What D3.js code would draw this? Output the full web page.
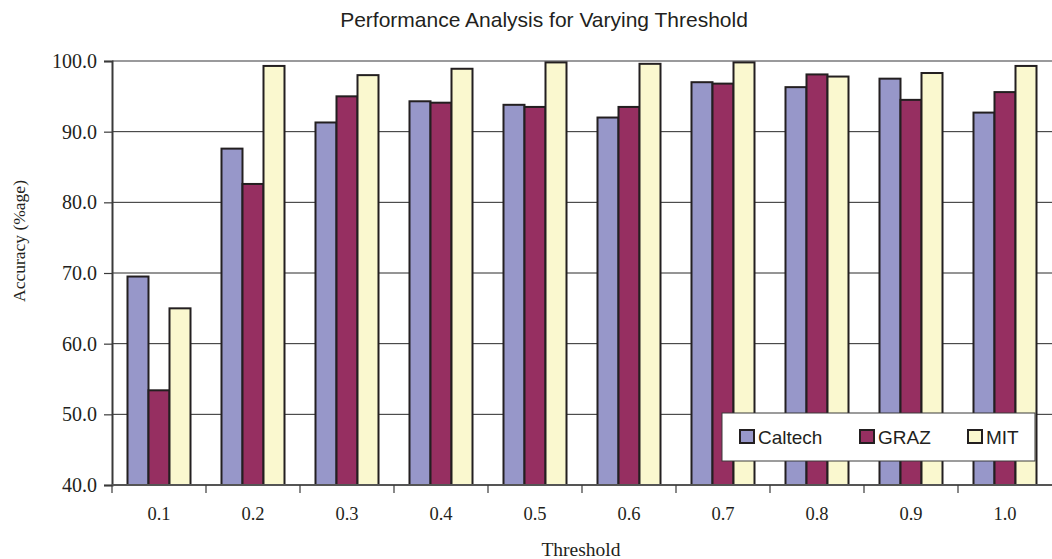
<!DOCTYPE html>
<html>
<head>
<meta charset="utf-8">
<script src="https://cdn.jsdelivr.net/npm/d3@7/dist/d3.min.js"></script>
<style>
  html, body { margin: 0; padding: 0; background: #fff; }
  svg { display: block; }
</style>
</head>
<body>
<svg id="chart" width="1052" height="559"></svg>
<script>
// Threshold values on the x axis
const categories = ["0.1", "0.2", "0.3", "0.4", "0.5", "0.6", "0.7", "0.8", "0.9", "1.0"];
// Accuracy (%) per dataset
const caltech = [69.5, 87.6, 91.3, 94.3, 93.8, 92.0, 97.0, 96.3, 97.5, 92.7];
const graz    = [53.4, 82.6, 95.0, 94.1, 93.5, 93.5, 96.8, 98.1, 94.5, 95.6];
const mit     = [65.0, 99.3, 98.0, 98.9, 99.8, 99.6, 99.8, 97.8, 98.3, 99.3];
const seriesNames = ["Caltech", "GRAZ", "MIT"];
const yTicks = [40, 50, 60, 70, 80, 90, 100];

const seriesValues = [caltech, graz, mit];
const colors = ["#9797C9", "#962F61", "#FAF8CF"];
const strokeDark = "#231F20";

const svg = d3.select("#chart");
const plot = { left: 112, right: 1052, top: 61, bottom: 485 };

const x0 = d3.scaleBand().domain(categories).range([plot.left, plot.right]).paddingInner(0).paddingOuter(0);
const x1 = d3.scaleBand().domain(seriesNames).range([0, x0.bandwidth()]).paddingInner(0).paddingOuter(0.738);
const y = d3.scaleLinear().domain([40, 100]).range([plot.bottom, plot.top]);
const color = d3.scaleOrdinal().domain(seriesNames).range(colors);

// Title
svg.append("text")
  .attr("x", 544).attr("y", 26.5)
  .attr("text-anchor", "middle")
  .attr("font-family", "Liberation Sans, Arial, sans-serif")
  .attr("font-size", 21)
  .attr("fill", "#231F20")
  .text("Performance Analysis for Varying Threshold");

// Horizontal gridlines
svg.append("g").selectAll("line")
  .data(yTicks.filter(d => d > 40))
  .join("line")
  .attr("x1", plot.left).attr("x2", plot.right)
  .attr("y1", d => y(d)).attr("y2", d => y(d))
  .attr("stroke", d => d === 100 ? "#9a9a9c" : "#2a2a2a")
  .attr("stroke-width", d => d === 100 ? 2 : 1);

// Bars
const groups = svg.append("g").selectAll("g")
  .data(categories)
  .join("g")
  .attr("transform", d => `translate(${x0(d)},0)`);

groups.selectAll("rect")
  .data((d, i) => seriesNames.map((s, k) => ({ s, v: seriesValues[k][i] })))
  .join("rect")
  .attr("x", d => x1(d.s))
  .attr("y", d => y(d.v))
  .attr("width", x1.bandwidth())
  .attr("height", d => y(40) - y(d.v))
  .attr("fill", d => color(d.s))
  .attr("stroke", strokeDark)
  .attr("stroke-width", 2);

// Y axis
const yAxis = d3.axisLeft(y).tickValues(yTicks).tickFormat(d3.format(".1f")).tickSize(8).tickPadding(7);
const gy = svg.append("g").attr("transform", `translate(${plot.left},0)`).call(yAxis);
gy.select(".domain").attr("stroke", "#3a3a3a").attr("stroke-width", 2);
gy.selectAll(".tick line").attr("stroke", "#3a3a3a").attr("stroke-width", 1.2);
gy.selectAll(".tick text")
  .attr("font-family", "Liberation Serif, Times New Roman, serif")
  .attr("font-size", 20)
  .attr("fill", "#231F20");

// X axis: ticks at category boundaries, labels at category centres
const gx = svg.append("g").attr("transform", `translate(0,${plot.bottom})`);
gx.append("line")
  .attr("x1", plot.left).attr("x2", plot.right)
  .attr("stroke", "#555").attr("stroke-width", 2);
gx.selectAll("line.tick")
  .data(categories)
  .join("line")
  .attr("class", "tick")
  .attr("x1", d => x0(d)).attr("x2", d => x0(d))
  .attr("y1", 0).attr("y2", 8)
  .attr("stroke", "#3a3a3a").attr("stroke-width", 1.2);
gx.selectAll("text")
  .data(categories)
  .join("text")
  .attr("x", d => x0(d) + x0.bandwidth() / 2)
  .attr("y", 35)
  .attr("text-anchor", "middle")
  .attr("font-family", "Liberation Serif, Times New Roman, serif")
  .attr("font-size", 18.5)
  .attr("fill", "#231F20")
  .text(d => d);

// Axis titles
svg.append("text")
  .attr("x", 581).attr("y", 555.5)
  .attr("text-anchor", "middle")
  .attr("font-family", "Liberation Serif, Times New Roman, serif")
  .attr("font-size", 19.5)
  .attr("fill", "#231F20")
  .text("Threshold");

svg.append("text")
  .attr("transform", "translate(25,241) rotate(-90)")
  .attr("text-anchor", "middle")
  .attr("font-family", "Liberation Serif, Times New Roman, serif")
  .attr("font-size", 17.5)
  .attr("fill", "#231F20")
  .text("Accuracy (%age)");

// Legend
const legend = svg.append("g");
legend.append("rect")
  .attr("x", 722).attr("y", 413)
  .attr("width", 313).attr("height", 48)
  .attr("fill", "#fff")
  .attr("stroke", "#3a3a3a").attr("stroke-width", 1);
const legendX = [740, 860, 968];
const items = legend.selectAll("g.item")
  .data(seriesNames)
  .join("g")
  .attr("class", "item")
  .attr("transform", (d, i) => `translate(${legendX[i]},430)`);
items.append("rect")
  .attr("width", 14).attr("height", 13)
  .attr("fill", d => color(d))
  .attr("stroke", strokeDark).attr("stroke-width", 2);
items.append("text")
  .attr("x", 18).attr("y", 13.5)
  .attr("font-family", "Liberation Sans, Arial, sans-serif")
  .attr("font-size", 19)
  .attr("fill", "#231F20")
  .text(d => d);
</script>
</body>
</html>
